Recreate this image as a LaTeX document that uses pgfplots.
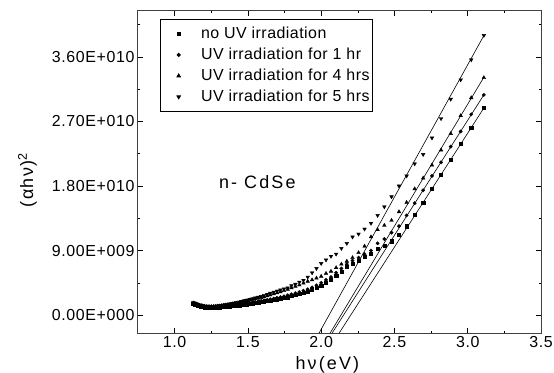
\documentclass[border=0pt]{standalone}
\usepackage{fontspec}
\setmainfont{Liberation Sans}
\usepackage{pgfplots}
\pgfplotsset{compat=1.18}
\usepackage{pgfplotstable}

\pgfplotstableread{
E V
3.110 28.9
3.024 26.1
2.952 23.9
2.884 21.7
2.818 19.6
2.756 17.6
2.696 15.7
2.638 14.0
2.583 12.4
2.531 11.2
2.480 10.3
2.431 9.7
2.385 9.2
2.340 8.6
2.296 8.1
2.255 7.6
2.214 7.2
2.175 6.7
2.138 6.1
2.102 5.5
2.067 4.9
2.033 4.5
2.000 4.1
1.968 3.8
1.938 3.5
1.908 3.3
1.879 3.1
1.851 2.95
1.824 2.8
1.797 2.65
1.771 2.5
1.746 2.4
1.722 2.3
1.699 2.2
1.676 2.12
1.653 2.05
1.632 1.98
1.610 1.9
1.590 1.83
1.570 1.77
1.550 1.7
1.531 1.64
1.512 1.58
1.494 1.53
1.476 1.48
1.459 1.43
1.442 1.39
1.425 1.35
1.409 1.31
1.393 1.27
1.378 1.24
1.363 1.21
1.348 1.18
1.333 1.15
1.319 1.13
1.305 1.11
1.292 1.09
1.278 1.07
1.265 1.06
1.253 1.05
1.240 1.05
1.228 1.06
1.216 1.08
1.204 1.11
1.192 1.15
1.181 1.2
1.170 1.26
1.159 1.33
1.148 1.4
1.138 1.47
1.127 1.55
}\noUV

\pgfplotstableread{
E V
3.110 30.7
3.024 28.0
2.952 25.6
2.884 23.5
2.818 21.3
2.756 19.4
2.696 17.4
2.638 15.6
2.583 13.9
2.531 12.4
2.480 11.5
2.431 10.6
2.385 10.0
2.340 9.0
2.296 8.5
2.255 8.0
2.214 7.6
2.175 7.1
2.138 6.5
2.102 5.9
2.067 5.3
2.033 4.9
2.000 4.5
1.968 4.15
1.938 3.85
1.908 3.6
1.879 3.4
1.851 3.2
1.824 3.05
1.797 2.9
1.771 2.75
1.746 2.62
1.722 2.5
1.699 2.4
1.676 2.3
1.653 2.2
1.632 2.12
1.610 2.04
1.590 1.96
1.570 1.89
1.550 1.82
1.531 1.75
1.512 1.69
1.494 1.63
1.476 1.57
1.459 1.52
1.442 1.47
1.425 1.42
1.409 1.38
1.393 1.34
1.378 1.3
1.363 1.26
1.348 1.23
1.333 1.2
1.319 1.17
1.305 1.15
1.292 1.13
1.278 1.11
1.265 1.1
1.253 1.09
1.240 1.09
1.228 1.1
1.216 1.12
1.204 1.15
1.192 1.2
1.181 1.25
1.170 1.31
1.159 1.38
1.148 1.45
1.138 1.52
1.127 1.6
}\oneHr

\pgfplotstableread{
E V
3.110 33.1
3.024 30.3
2.952 27.8
2.884 25.3
2.818 23.0
2.756 20.9
2.696 19.1
2.638 17.6
2.583 15.7
2.531 14.4
2.480 13.2
2.431 12.5
2.385 11.9
2.340 10.9
2.296 9.6
2.255 8.7
2.214 8.0
2.175 7.5
2.138 7.1
2.102 6.6
2.067 6.1
2.033 5.8
2.000 5.4
1.968 5.15
1.938 4.9
1.908 4.7
1.879 4.45
1.851 4.2
1.824 4.0
1.797 3.8
1.771 3.6
1.746 3.4
1.722 3.25
1.699 3.1
1.676 2.95
1.653 2.8
1.632 2.68
1.610 2.55
1.590 2.45
1.570 2.35
1.550 2.25
1.531 2.15
1.512 2.07
1.494 1.98
1.476 1.9
1.459 1.82
1.442 1.75
1.425 1.68
1.409 1.62
1.393 1.56
1.378 1.5
1.363 1.45
1.348 1.4
1.333 1.35
1.319 1.31
1.305 1.27
1.292 1.24
1.278 1.21
1.265 1.19
1.253 1.18
1.240 1.17
1.228 1.18
1.216 1.2
1.204 1.23
1.192 1.27
1.181 1.32
1.170 1.38
1.159 1.45
1.148 1.52
1.138 1.6
1.127 1.68
}\fourHr

\pgfplotstableread{
E V
3.110 39.0
3.024 35.6
2.952 32.8
2.884 30.1
2.818 27.4
2.756 24.7
2.696 22.4
2.638 21.1
2.583 19.4
2.531 18.0
2.480 16.5
2.431 15.1
2.385 13.9
2.340 12.8
2.296 12.0
2.255 11.3
2.214 10.9
2.175 10.0
2.138 9.3
2.102 8.5
2.067 8.2
2.033 7.7
2.000 7.2
1.968 6.5
1.938 5.9
1.908 5.3
1.879 4.85
1.851 4.6
1.824 4.3
1.797 4.1
1.771 3.8
1.746 3.65
1.722 3.5
1.699 3.35
1.676 3.2
1.653 3.05
1.632 2.9
1.610 2.75
1.590 2.6
1.570 2.5
1.550 2.4
1.531 2.3
1.512 2.2
1.494 2.1
1.476 2.0
1.459 1.9
1.442 1.82
1.425 1.75
1.409 1.68
1.393 1.62
1.378 1.56
1.363 1.5
1.348 1.45
1.333 1.4
1.319 1.35
1.305 1.3
1.292 1.27
1.278 1.24
1.265 1.22
1.253 1.2
1.240 1.2
1.228 1.2
1.216 1.22
1.204 1.25
1.192 1.3
1.181 1.35
1.170 1.42
1.159 1.5
1.148 1.58
1.138 1.65
1.127 1.75
}\fiveHr

\pgfplotsset{myleg/.style={legend image code/.code={%
  \path (0bp,0bp) (37bp,0bp);
  \draw[##1] plot coordinates {(16bp,0bp)};}}}

\begin{document}
\begin{tikzpicture}
\useasboundingbox (-138bp,-40bp) rectangle (416bp,333bp);
\begin{axis}[
  scale only axis, width=403bp, height=322bp,
  at={(0,0)}, anchor=south west,
  xmin=0.75, xmax=3.5, ymin=-2.5, ymax=42.4,
  xtick={1,1.5,2,2.5,3,3.5},
  xticklabels={1.0,1.5,2.0,2.5,3.0,3.5},
  minor xtick={1.25,1.75,2.25,2.75,3.25},
  ytick={0,9,18,27,36},
  yticklabels={0.00E+000,9.00E+009,1.80E+010,2.70E+010,3.60E+010},
  minor ytick={4.5,13.5,22.5,31.5,40.5},
  major tick length=5bp, minor tick length=2.5bp,
  tick style={black, line width=0.6bp},
  axis line style={black!75, line width=1bp},
  /pgf/number format/assume math mode=true,
  ticklabel style={font=\fontsize{16}{16}\selectfont\addfontfeatures{LetterSpace=4}},
  xlabel={hν(eV)},
  ylabel={(αhν)\textsuperscript{2}},
  xlabel style={at={(axis description cs:0.47,0)}, anchor=north, inner sep=0pt, yshift=-23bp,
    font=\fontsize{18}{18}\selectfont\addfontfeatures{LetterSpace=12}},
  ylabel style={at={(axis description cs:-0.274,0.475)}, anchor=center, inner sep=0pt,
    font=\fontsize{18}{18}\selectfont\addfontfeatures{LetterSpace=8}},
  legend style={at={(axis description cs:0.0546,0.975)}, anchor=north west,
    draw=black, line width=0.7bp, inner xsep=2bp, inner ysep=4bp,
    font=\fontsize{16}{16}\selectfont\addfontfeatures{LetterSpace=3},
    nodes={inner xsep=1bp, inner ysep=2bp, text height=13.5bp, text depth=3.5bp},
    row sep=0pt, column sep=0pt},
  legend cell align=left,
]
\addplot[only marks, mark=square*, mark size=1.6bp, black, myleg] table[x=E,y=V]{\noUV};
\addlegendentry{no UV irradiation}
\addplot[only marks, mark=*, mark size=1.7bp, black, myleg] table[x=E,y=V]{\oneHr};
\addlegendentry{UV irradiation for 1 hr}
\addplot[only marks, mark=triangle*, mark size=2.1bp, black, myleg] table[x=E,y=V]{\fourHr};
\addlegendentry{UV irradiation for 4 hrs}
\addplot[only marks, mark=triangle*, mark size=2.1bp, mark options={rotate=180}, black, myleg] table[x=E,y=V]{\fiveHr};
\addlegendentry{UV irradiation for 5 hrs}
\addplot[black, line width=0.6bp, forget plot] coordinates {(2.123,-2.5) (3.11,28.87)};
\addplot[black, line width=0.6bp, forget plot] coordinates {(2.075,-2.5) (3.11,30.7)};
\addplot[black, line width=0.6bp, forget plot] coordinates {(2.0615,-2.5) (3.11,33.15)};
\addplot[black, line width=0.6bp, forget plot] coordinates {(1.986,-2.5) (3.11,38.97)};
\node[font=\fontsize{18}{18}\selectfont\addfontfeatures{LetterSpace=12}] at (axis cs:1.564,18.6) {n- CdSe};
\end{axis}
\end{tikzpicture}
\end{document}
